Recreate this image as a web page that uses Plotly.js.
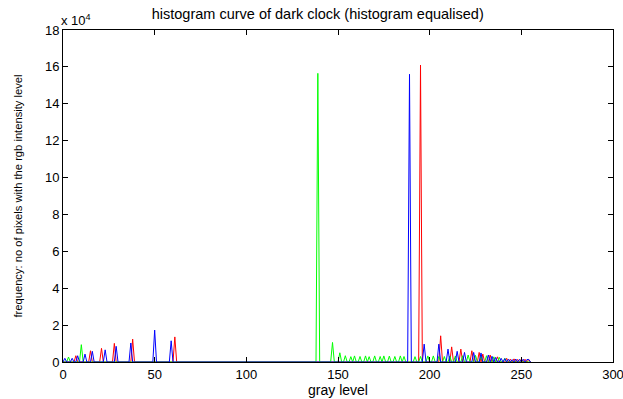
<!DOCTYPE html>
<html>
<head>
<meta charset="utf-8">
<script src="https://cdn.plot.ly/plotly-3.0.1.min.js"></script>
<style>html,body{margin:0;padding:0;background:#fff;}#chart{width:623px;height:399px;}</style>
</head>
<body>
<div id="chart"></div>
<script>
// Gray levels of the histogram (0..255)
const grayLevels = Array.from({length: 256}, (_, i) => i);

// Non-zero histogram bins (level, pixel count)
const redLevels = [7, 15, 21, 28, 38, 61, 195, 206, 212, 217, 223, 227, 229, 233, 237, 242, 244, 246, 248, 250, 252, 254];
const redCounts = [3400, 6100, 7400, 10100, 12400, 13600, 161000, 14200, 8200, 7000, 6100, 5200, 4300, 3800, 2800, 2000, 1500, 1700, 1400, 1600, 1500, 1300];

const greenLevels = [3, 10, 139, 147, 151, 154, 157, 159, 162, 165, 167, 170, 173, 175, 178, 181, 184, 186, 192, 195, 199, 202, 205, 208, 211, 214, 218, 221, 225, 228, 231, 235, 238, 241];
const greenCounts = [2700, 9400, 156500, 10600, 5000, 3400, 2900, 3300, 3000, 3300, 2900, 3300, 3000, 3300, 3200, 3000, 3300, 3000, 2900, 3000, 3300, 3300, 3000, 3000, 3200, 3300, 3400, 3800, 3600, 3300, 3400, 2800, 2500, 2000];

const blueLevels = [1, 5, 8, 12, 16, 23, 29, 37, 50, 59, 189, 197, 205, 210, 215, 219, 224, 228, 232, 234, 236, 239, 241, 243, 245, 247, 249, 251, 253, 254];
const blueCounts = [2000, 2000, 3400, 4300, 5800, 6600, 8500, 10300, 17300, 11500, 156000, 9700, 9700, 7000, 5800, 5200, 5200, 4900, 3800, 3100, 2500, 2000, 1800, 1500, 1300, 1600, 1400, 1500, 1300, 1400];

// Axis tick labels
const xTicks = [0, 50, 100, 150, 200, 250, 300];
const yTickVals = [0, 20000, 40000, 60000, 80000, 100000, 120000, 140000, 160000, 180000];
const yTickText = ['0', '2', '4', '6', '8', '10', '12', '14', '16', '18'];

function fullHist(levels, counts) {
  const h = grayLevels.map(() => 0);
  levels.forEach((l, i) => { h[l] = counts[i]; });
  return h;
}

const traces = [
  {x: grayLevels, y: fullHist(redLevels, redCounts), mode: 'lines', line: {color: '#ff0000', width: 1}, hoverinfo: 'skip'},
  {x: grayLevels, y: fullHist(greenLevels, greenCounts), mode: 'lines', line: {color: '#00ff00', width: 1}, hoverinfo: 'skip'},
  {x: grayLevels, y: fullHist(blueLevels, blueCounts), mode: 'lines', line: {color: '#0000ff', width: 1}, hoverinfo: 'skip'}
];

const fam = 'Liberation Sans, Arial, sans-serif';
const tickFont = {family: fam, size: 13, color: '#000'};

const layout = {
  width: 623, height: 399,
  margin: {l: 63, r: 10, t: 30, b: 37},
  paper_bgcolor: '#fff', plot_bgcolor: '#fff',
  showlegend: false,
  font: {family: fam, size: 12, color: '#000'},
  title: {text: 'histogram curve of dark clock (histogram equalised)', font: {family: fam, size: 14.5, color: '#000'}, x: 0.51, xanchor: 'center', y: 0.966, yanchor: 'middle'},
  xaxis: {
    range: [0, 300], tickvals: xTicks, ticks: 'inside', ticklen: 5, tickcolor: '#000',
    ticklabeloverflow: 'allow',
    showline: true, linecolor: '#000', linewidth: 1, mirror: 'ticks', showgrid: false, zeroline: false,
    tickfont: tickFont, title: {text: 'gray level', font: {family: fam, size: 14, color: '#000'}, standoff: 0}
  },
  yaxis: {
    range: [0, 180000], tickvals: yTickVals, ticktext: yTickText, ticks: 'inside', ticklen: 5, tickcolor: '#000',
    showline: true, linecolor: '#000', linewidth: 1, mirror: 'ticks', showgrid: false, zeroline: false,
    tickfont: tickFont, title: {text: 'frequency: no of pixels with the rgb intensity level', font: {family: fam, size: 11.2, color: '#000'}, standoff: 20}
  },
  annotations: [{
    xref: 'paper', yref: 'paper', x: 0, y: 1, xanchor: 'left', yanchor: 'bottom', xshift: -4, yshift: 0,
    text: 'x 10<sup>4</sup>', showarrow: false, font: {family: fam, size: 13, color: '#000'}
  }]
};

Plotly.newPlot('chart', traces, layout, {staticPlot: true, displayModeBar: false});
</script>
</body>
</html>
